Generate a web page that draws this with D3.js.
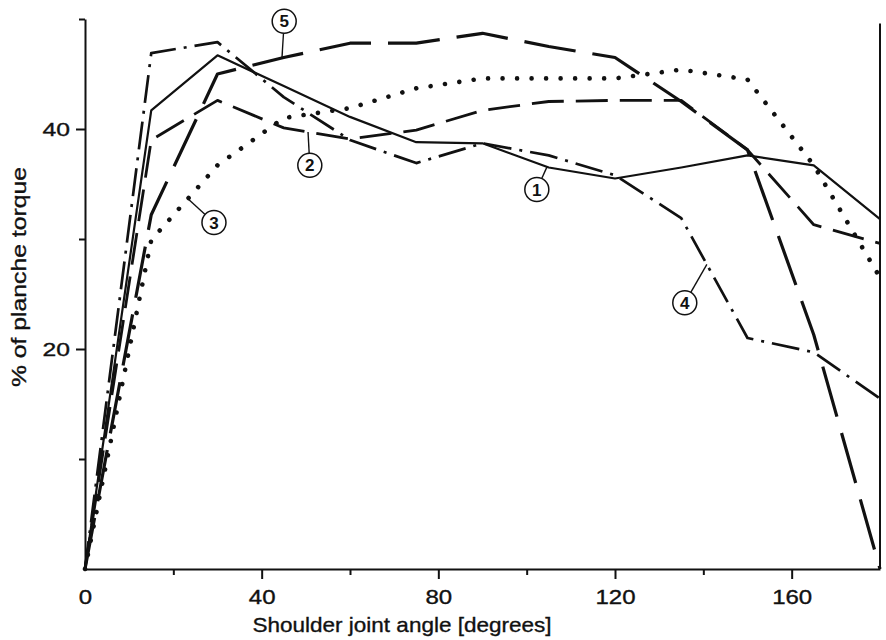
<!DOCTYPE html>
<html>
<head>
<meta charset="utf-8">
<script src="https://cdn.jsdelivr.net/npm/d3@7"></script>
<style>
  body { margin: 0; background: #fff; }
  svg { display: block; background: #fff; }
  .series { fill: none; stroke: #111; stroke-linejoin: round; }
  .frame { stroke: #111; stroke-width: 2; }
  .ink { fill: #111; stroke: #111; stroke-width: 0.35px; }
</style>
</head>
<body>
<div id="chart"></div>
<script>
// shoulder joint angle, degrees
const angles = [0, 15, 30, 45, 60, 75, 90, 105, 120, 135, 150, 165, 180]

// % of planche torque, one list per curve
const curve1 = [0, 41.7, 46.7, 43.9, 41.1, 38.8, 38.7, 36.5, 35.5, 36.5, 37.6, 36.7, 31.8]
const curve2 = [0, 39.0, 42.6, 40.1, 39.1, 39.9, 41.7, 42.5, 42.6, 42.6, 38.1, 31.3, 29.6]
const curve3 = [0, 29.9, 36.7, 41.0, 41.9, 43.7, 44.6, 44.6, 44.6, 45.4, 44.5, 36.7, 26.5]
const curve4 = [0, 46.9, 47.9, 42.9, 39.0, 36.9, 38.7, 37.6, 35.8, 31.9, 21.0, 19.7, 15.5]
const curve5 = [0, 32.2, 45.0, 46.5, 47.8, 47.8, 48.7, 47.5, 46.5, 42.5, 38.1, 21.3, 0]

const curveNames = ['1', '2', '3', '4', '5']
const curves = [curve1, curve2, curve3, curve4, curve5]

// axis ticks
const xTicks = [0, 40, 80, 120, 160]
const xMinorTicks = [20, 60, 100, 140]
const yTicks = [20, 40]
const yMinorTicks = [10, 30, 50]

// circled tags: where the circle sits, and the angle its leader points at
const tagAngle = [102.3, 50.9, 29.2, 135.8, 45.1]
const tagValue = [34.5, 36.7, 31.5, 24.2, 49.8]
const leaderAngle = [104.6, 50.5, 23.3, 140.8, 44.6]

const xTitle = 'Shoulder joint angle [degrees]'
const yTitle = '% of planche torque'

// line look for each curve
const styles = [
  { width: 2.2, dash: null, cap: 'butt' },
  { width: 2.8, dash: '32,12', cap: 'butt' },
  { width: 4.6, dash: '0.01,14.5', cap: 'round' },
  { width: 2.7, dash: '28,8,3,8', cap: 'butt' },
  { width: 3.2, dash: '52,17', cap: 'butt' },
]

const font = "'Liberation Sans', Arial, Helvetica, sans-serif"
const width = 886
const height = 640

const x = d3.scaleLinear().domain([0, 180]).range([85, 880])
const y = d3.scaleLinear().domain([0, 50]).range([569, 19])

const svg = d3.select('#chart')
  .append('svg')
  .attr('width', width)
  .attr('height', height)
  .attr('font-family', font)

// the scanned lettering is a bit wider than the font
function widen(sel, k) {
  sel.each(function () {
    const len = this.getComputedTextLength()
    d3.select(this).attr('textLength', len * k).attr('lengthAdjust', 'spacingAndGlyphs')
  })
}

// x axis
const xAxis = svg.append('g')
  .attr('transform', `translate(0,${y(0)})`)
  .call(d3.axisBottom(x).tickValues(xTicks).tickSize(10).tickSizeOuter(0).tickPadding(11).tickFormat(d3.format('d')))
  .attr('font-family', font)
  .attr('font-size', 20)
xAxis.select('.domain').attr('stroke', '#111').attr('stroke-width', 2)
xAxis.selectAll('.tick line').attr('stroke', '#111').attr('stroke-width', 2)
xAxis.selectAll('.tick').filter(d => d === 0).select('line').remove()
xAxis.selectAll('.tick text').attr('class', 'ink').call(widen, 1.2)

svg.append('g')
  .attr('transform', `translate(0,${y(0)})`)
  .call(d3.axisBottom(x).tickValues(xMinorTicks).tickSize(6).tickSizeOuter(0).tickFormat(''))
  .call(g => g.select('.domain').remove())
  .selectAll('.tick line').attr('stroke', '#111').attr('stroke-width', 2)

// y axis
const yAxis = svg.append('g')
  .attr('transform', `translate(${x(0)},0)`)
  .call(d3.axisLeft(y).tickValues(yTicks).tickSize(9).tickSizeOuter(0).tickPadding(6))
  .attr('font-family', font)
  .attr('font-size', 19)
yAxis.select('.domain').attr('stroke', '#111').attr('stroke-width', 2)
yAxis.selectAll('.tick line').attr('stroke', '#111').attr('stroke-width', 2)
yAxis.selectAll('.tick text').attr('class', 'ink').call(widen, 1.3)

svg.append('g')
  .attr('transform', `translate(${x(0)},0)`)
  .call(d3.axisLeft(y).tickValues(yMinorTicks).tickSize(6).tickSizeOuter(0).tickFormat(''))
  .call(g => g.select('.domain').remove())
  .selectAll('.tick line').attr('stroke', '#111').attr('stroke-width', 2)

// right hand border
svg.append('line')
  .attr('class', 'frame')
  .attr('x1', x(180)).attr('x2', x(180))
  .attr('y1', y(0)).attr('y2', y(49.6))

// axis titles
svg.append('text')
  .attr('class', 'ink')
  .attr('x', 402)
  .attr('y', 632)
  .attr('text-anchor', 'middle')
  .attr('font-size', 21)
  .attr('textLength', 299)
  .attr('lengthAdjust', 'spacingAndGlyphs')
  .text(xTitle)

svg.append('text')
  .attr('class', 'ink')
  .attr('transform', 'translate(26,277) rotate(-90)')
  .attr('text-anchor', 'middle')
  .attr('font-size', 21)
  .attr('textLength', 220)
  .attr('lengthAdjust', 'spacingAndGlyphs')
  .text(yTitle)

// curves
const line = d3.line()
  .x(d => x(d[0]))
  .y(d => y(d[1]))

svg.append('g')
  .selectAll('path')
  .data(curves)
  .join('path')
    .attr('class', 'series')
    .attr('d', vals => line(angles.map((a, i) => [a, vals[i]])))
    .attr('stroke-width', (d, i) => styles[i].width)
    .attr('stroke-dasharray', (d, i) => styles[i].dash)
    .attr('stroke-linecap', (d, i) => styles[i].cap)

// value of a curve at any angle
function valueAt(vals, a) {
  const i = Math.min(d3.bisectRight(angles, a), angles.length - 1)
  const t = (a - angles[i - 1]) / (angles[i] - angles[i - 1])
  return vals[i - 1] + t * (vals[i] - vals[i - 1])
}

// circled curve numbers with leader lines
const r = 12
const tags = svg.append('g')
  .selectAll('g')
  .data(curveNames)
  .join('g')

tags.append('line')
  .each(function (d, i) {
    const cx = x(tagAngle[i])
    const cy = y(tagValue[i])
    const tx = x(leaderAngle[i])
    const ty = y(valueAt(curves[i], leaderAngle[i]))
    const len = Math.hypot(tx - cx, ty - cy)
    d3.select(this)
      .attr('x1', cx + (tx - cx) * r / len)
      .attr('y1', cy + (ty - cy) * r / len)
      .attr('x2', tx)
      .attr('y2', ty)
  })
  .attr('stroke', '#111')
  .attr('stroke-width', 1.4)

tags.append('circle')
  .attr('cx', (d, i) => x(tagAngle[i]))
  .attr('cy', (d, i) => y(tagValue[i]))
  .attr('r', r)
  .attr('fill', '#fff')
  .attr('stroke', '#111')
  .attr('stroke-width', 1.5)

tags.append('text')
  .attr('x', (d, i) => x(tagAngle[i]))
  .attr('y', (d, i) => y(tagValue[i]))
  .attr('dy', '0.36em')
  .attr('text-anchor', 'middle')
  .attr('font-size', 17)
  .attr('font-weight', 'bold')
  .attr('fill', '#111')
  .text(d => d)
</script>
</body>
</html>
